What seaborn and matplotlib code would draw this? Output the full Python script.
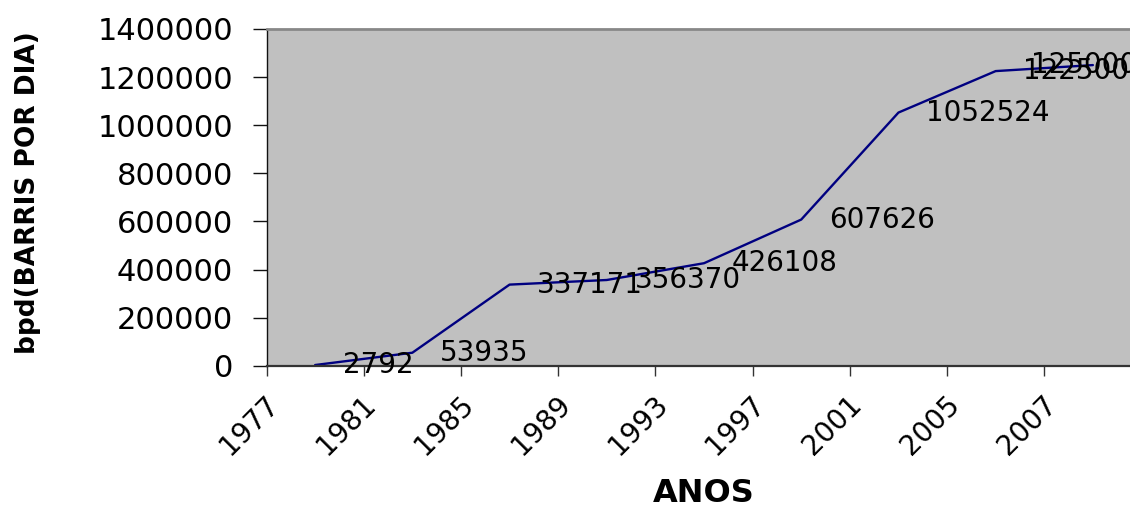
import numpy as np
import pandas as pd
import matplotlib
matplotlib.use("Agg")
import matplotlib.pyplot as plt
from matplotlib.transforms import ScaledTranslation
import seaborn as sns

# Oil production (barrels per day) by year
years = ["1977", "1981", "1985", "1989", "1993", "1997", "2001", "2005", "2007"]
production = [2792, 53935, 337171, 356370, 426108, 607626, 1052524, 1225000, 1250000]
y_ticks = [0, 200000, 400000, 600000, 800000, 1000000, 1200000, 1400000]

sns.set_style("white")
plt.rcParams["font.family"] = ["DejaVu Sans"]
plt.rcParams.update({
    "text.color": "black",
    "axes.labelcolor": "black",
    "xtick.color": "black",
    "ytick.color": "black",
})

df = pd.DataFrame({"pos": np.arange(len(years)), "bpd": production})

W, H, DPI = 1130, 508, 100
fig = plt.figure(figsize=(W / DPI, H / DPI), dpi=DPI)
# plot area: left edge at 266.5 px, 9 categories of ~97.2 px (runs past the right edge)
left_px, width_px = 266.5, 875.0
bottom_px, top_px = 365.7, 29.0
ax = fig.add_axes([left_px / W, (H - bottom_px) / H,
                   width_px / W, (bottom_px - top_px) / H])
ax.set_facecolor("#C0C0C0")

sns.lineplot(data=df, x="pos", y="bpd", ax=ax, color="#000080",
             linewidth=1.7, marker=None)

ax.set_xlim(-0.5, len(years) - 0.5)
ax.set_ylim(0, 1400000)

# category boundaries carry the tick marks and year labels
ax.set_xticks(np.arange(len(years)) - 0.5)
ax.set_xticklabels(years, rotation=45, ha="right", va="center",
                   rotation_mode="anchor", fontsize=20)
ax.tick_params(axis="x", length=7.2, width=1.0, pad=17.5, color="#333333",
               labelcolor="black", direction="out", bottom=True)
for lbl in ax.get_xticklabels():
    lbl.set_transform(lbl.get_transform() +
                      ScaledTranslation(8 / DPI, 0, fig.dpi_scale_trans))

ax.set_yticks(y_ticks)
ax.set_yticklabels([str(v) for v in y_ticks], fontsize=22)
ax.tick_params(axis="y", length=10, width=1.0, pad=14, color="#111111",
               labelcolor="black", direction="out", left=True)

ax.spines["top"].set_color("#888888")
ax.spines["top"].set_linewidth(2.0)
ax.spines["left"].set_color("#111111")
ax.spines["left"].set_linewidth(1.0)
ax.spines["bottom"].set_color("#333333")
ax.spines["bottom"].set_linewidth(1.6)
ax.spines["right"].set_visible(False)

# value labels beside each point
for i, v in enumerate(production):
    dx = 20 if i < len(production) - 1 else -44.5
    ax.annotate(str(v), xy=(i, v), xytext=(dx, 0), textcoords="offset points",
                ha="left", va="center", fontsize=20, color="black",
                annotation_clip=False)

ax.set_xlabel("ANOS", fontsize=23, fontweight="bold", va="top", color="black")
ax.xaxis.set_label_coords(0.5, -0.333)
ax.set_ylabel("bpd(BARRIS POR DIA)", fontsize=19, fontweight="bold",
              va="center", color="black")
ax.yaxis.set_label_coords((28 - left_px) / width_px, 0.513)

fig.savefig("out.png", dpi=DPI, facecolor="white")
